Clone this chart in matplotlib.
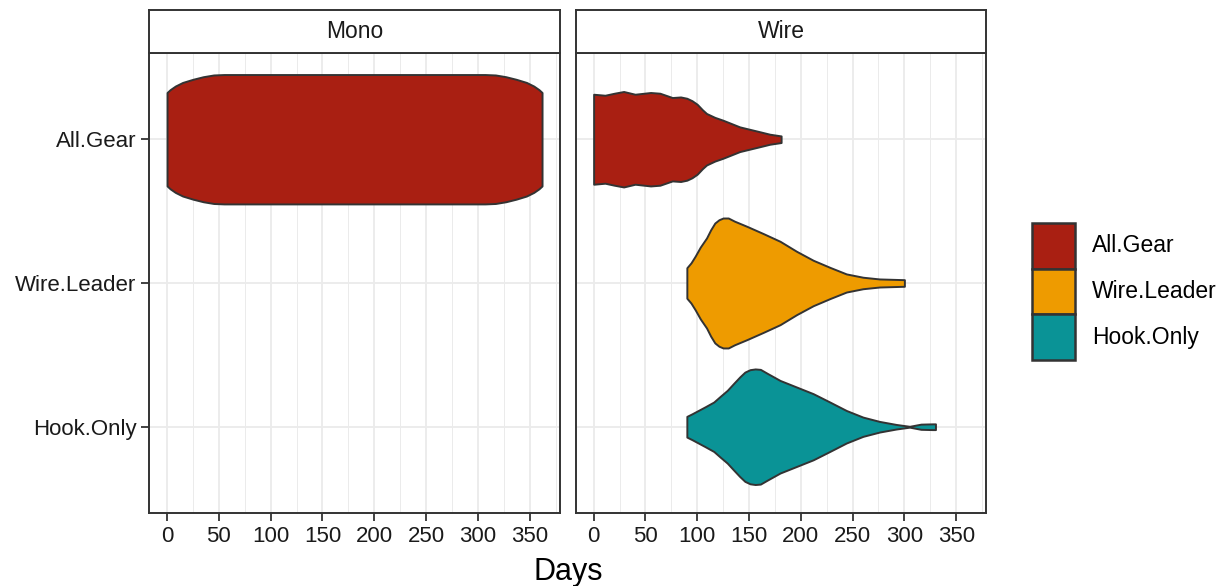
import matplotlib
matplotlib.use('Agg')
import matplotlib.pyplot as plt
from matplotlib.patches import Rectangle

plt.rcParams['font.family'] = ['Liberation Sans', 'DejaVu Sans']

# categories (top to bottom) and fill colours
categories = ['All.Gear', 'Wire.Leader', 'Hook.Only']
colors = ['#A91F12', '#EE9B00', '#0A9396']
panels = ['Mono', 'Wire']

# violin outlines: days and half width (in category units)
mono_gear_days = [0, 3, 8, 15, 25, 35, 45, 55, 307, 317, 327, 337, 347, 354, 359, 362]
mono_gear_hw = [0.325, 0.345, 0.37, 0.395, 0.417, 0.435, 0.447, 0.45,
                0.45, 0.447, 0.435, 0.417, 0.395, 0.37, 0.345, 0.325]

wire_gear_days = [0, 11, 20, 29, 40, 55, 64, 70, 76, 84, 90, 95, 100, 105, 109,
                  117, 125, 141, 161, 170, 181]
wire_gear_hw = [0.313, 0.306, 0.32, 0.332, 0.313, 0.325, 0.32, 0.305, 0.29, 0.294,
                0.285, 0.268, 0.243, 0.205, 0.179, 0.152, 0.132, 0.086, 0.051,
                0.035, 0.023]

wire_leader_days = [90, 94, 98, 103, 109, 113, 117, 121, 125, 130, 136, 148, 164, 180,
                    196, 212, 228, 244, 260, 276, 300]
wire_leader_hw = [0.106, 0.14, 0.186, 0.25, 0.313, 0.37, 0.417, 0.44, 0.452, 0.452,
                  0.43, 0.394, 0.343, 0.29, 0.22, 0.158, 0.109, 0.063, 0.04, 0.028,
                  0.023]

wire_hook_days = [90, 95, 101, 108, 116, 122, 129, 135, 141, 146, 151, 156, 161, 168,
                  180, 196, 212, 228, 244, 260, 276, 292, 305, 316, 327, 330]
wire_hook_hw = [0.072, 0.09, 0.113, 0.14, 0.172, 0.21, 0.253, 0.3, 0.346, 0.38, 0.397,
                0.402, 0.399, 0.37, 0.322, 0.276, 0.23, 0.172, 0.113, 0.067, 0.037,
                0.016, 0.003, 0.018, 0.02, 0.02]

violins = {
    'Mono': [('All.Gear', mono_gear_days, mono_gear_hw)],
    'Wire': [('All.Gear', wire_gear_days, wire_gear_hw),
             ('Wire.Leader', wire_leader_days, wire_leader_hw),
             ('Hook.Only', wire_hook_days, wire_hook_hw)],
}

x_major = list(range(0, 351, 50))
x_minor = list(range(25, 376, 50))

fig = plt.figure(figsize=(12.3, 5.86), dpi=100)

line_col = '#333333'
grid_col = '#EBEBEB'
text_col = '#1A1A1A'

panel_left = [0.1215, 0.4683]
panel_w = 0.3335
panel_b = 0.1246
panel_h = 0.785
strip_h = 0.0734

for i, name in enumerate(panels):
    ax = fig.add_axes([panel_left[i], panel_b, panel_w, panel_h])
    for cat, days, hw in violins[name]:
        k = categories.index(cat)
        y = k + 1
        lo = [y - w for w in hw]
        hi = [y + w for w in hw]
        ax.fill_between(days, lo, hi, facecolor=colors[k], edgecolor=line_col,
                        linewidth=1.4, zorder=3)
    ax.set_xlim(-17, 379)
    ax.set_ylim(3.6, 0.4)
    ax.set_xticks(x_major)
    ax.set_xticks(x_minor, minor=True)
    ax.set_yticks([1, 2, 3])
    ax.set_axisbelow(True)
    ax.grid(which='major', color=grid_col, linewidth=1.3)
    ax.grid(which='minor', axis='x', color=grid_col, linewidth=0.7)
    ax.tick_params(which='major', direction='out', length=5.5, width=1.3,
                   color=line_col, labelsize=16, labelcolor=text_col, pad=4)
    ax.tick_params(which='minor', length=0)
    if i == 0:
        ax.set_yticklabels(categories)
    else:
        ax.tick_params(axis='y', left=False, labelleft=False)
    for sp in ax.spines.values():
        sp.set_color(line_col)
        sp.set_linewidth(1.4)

    # facet strip
    st = fig.add_axes([panel_left[i], panel_b + panel_h, panel_w, strip_h])
    st.set_xticks([])
    st.set_yticks([])
    for sp in st.spines.values():
        sp.set_color(line_col)
        sp.set_linewidth(1.4)
    st.text(0.5, 0.5, name, ha='center', va='center', fontsize=16.5,
            color=text_col, transform=st.transAxes)

fig.text(panel_left[0] + (panel_left[1] + panel_w - panel_left[0]) / 2, 0.011, 'Days',
         ha='center', va='baseline', fontsize=22, color='black')

# legend
key_x = 1031.7 / 1230
key_w = 43.3 / 1230
key_h = 45.7 / 586
key_top = 1 - 223 / 586
for k, cat in enumerate(categories):
    yb = key_top - (k + 1) * key_h
    fig.patches.append(Rectangle((key_x, yb), key_w, key_h, transform=fig.transFigure,
                                 facecolor=colors[k], edgecolor=line_col, linewidth=1.8))
    fig.text(1091.7 / 1230, yb + key_h / 2, cat, ha='left', va='center',
             fontsize=16.5, color='black')

fig.savefig('out.png', dpi=100)
